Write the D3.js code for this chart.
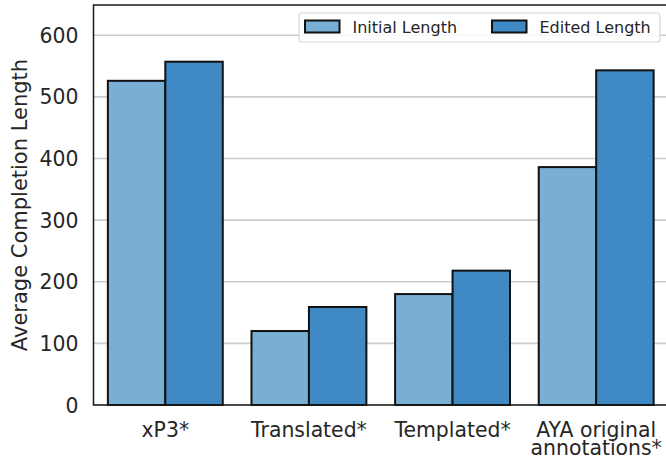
<!DOCTYPE html>
<html>
<head>
<meta charset="utf-8">
<script src="https://cdn.jsdelivr.net/npm/d3@7"></script>
<style>
  html, body { margin: 0; padding: 0; background: #fff; }
  svg { display: block; font-family: "DejaVu Sans", sans-serif; }
</style>
</head>
<body>
<svg id="chart" width="666" height="459"></svg>
<script>
const categories = ["xP3*", "Translated*", "Templated*", "AYA original\nannotations*"];
const seriesNames = ["Initial Length", "Edited Length"];
const initialLength = [526, 120, 180, 386];
const editedLength = [557, 159, 218, 543];
const yTicks = [0, 100, 200, 300, 400, 500, 600];
const colors = ["#79aed5", "#3f89c4"];

(function () {
const seriesValues = [initialLength, editedLength];
const rows = [];
categories.forEach((c, i) => {
  seriesNames.forEach((s, j) => rows.push({cat: c, series: s, value: seriesValues[j][i], j}));
});

const svg = d3.select("#chart");
const pL = 93.5, pR = 668, pT = 5, pB = 405;

const x = d3.scaleBand().domain(categories).range([pL, pR]).paddingInner(0.2).paddingOuter(0.1);
const xs = d3.scaleBand().domain(seriesNames).range([0, x.bandwidth()]);
const y = d3.scaleLinear().domain([0, 649]).range([pB, pT]);

// grid
svg.append("g").selectAll("line").data(yTicks).join("line")
  .attr("x1", pL).attr("x2", pR)
  .attr("y1", d => y(d)).attr("y2", d => y(d))
  .attr("stroke", "#cccccc").attr("stroke-width", 1.6);

// bars
svg.append("g").selectAll("rect").data(rows).join("rect")
  .attr("x", d => x(d.cat) + xs(d.series))
  .attr("width", xs.bandwidth())
  .attr("y", d => y(d.value))
  .attr("height", d => y(0) - y(d.value))
  .attr("fill", d => colors[d.j])
  .attr("stroke", "#111")
  .attr("stroke-width", 2);

// spines
svg.append("rect").attr("x", pL).attr("y", pT).attr("width", pR - pL).attr("height", pB - pT)
  .attr("fill", "none").attr("stroke", "#1a1a1a").attr("stroke-width", 1.5);

// y axis
const yAxis = d3.axisLeft(y).tickValues(yTicks).tickSize(0).tickPadding(15);
const gy = svg.append("g").attr("transform", `translate(${pL},0)`).call(yAxis);
gy.select(".domain").remove();
gy.selectAll("text").attr("font-size", "20.4px").attr("fill", "#262626").attr("font-family", "DejaVu Sans")
  .attr("dy", "0.35em");

// x axis
const xAxis = d3.axisBottom(x).tickSize(0).tickFormat(() => "");
const gx = svg.append("g").attr("transform", `translate(0,${pB})`).call(xAxis);
gx.select(".domain").remove();
gx.selectAll(".tick").each(function(d) {
  const lines = d.split("\n");
  const t = d3.select(this).append("text")
    .attr("text-anchor", "middle").attr("font-size", "20.4px").attr("fill", "#262626")
    .attr("font-family", "DejaVu Sans");
  lines.forEach((ln, k) => t.append("tspan").attr("x", 0).attr("y", 31.5 + k * 18.5).text(ln));
});

// y label
svg.append("text")
  .attr("transform", `translate(27,${(pT + pB) / 2}) rotate(-90)`)
  .attr("text-anchor", "middle").attr("font-size", "21px").attr("fill", "#262626")
  .text("Average Completion Length");

// legend
const lg = svg.append("g");
lg.append("rect").attr("x", 299).attr("y", 13).attr("width", 361).attr("height", 29).attr("rx", 3)
  .attr("fill", "rgba(255,255,255,0.85)").attr("stroke", "#d6d6d6").attr("stroke-width", 1.2);
const legX = [305, 492];
seriesNames.forEach((s, j) => {
  lg.append("rect").attr("x", legX[j]).attr("y", 20.5).attr("width", 34.5).attr("height", 12)
    .attr("fill", colors[j]).attr("stroke", "#111").attr("stroke-width", 2);
  lg.append("text").attr("x", legX[j] + 47.5).attr("y", 32.5).attr("font-size", "16px")
    .attr("fill", "#262626").text(s);
});
})();
</script>
</body>
</html>
